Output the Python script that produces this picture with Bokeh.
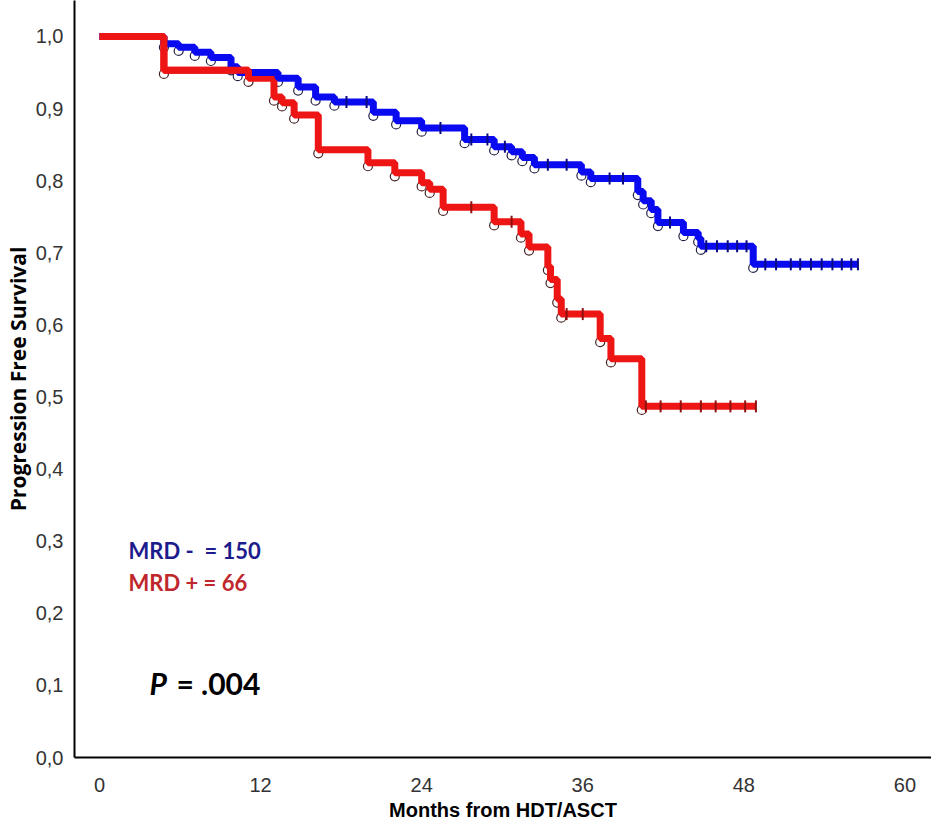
import numpy as np
from bokeh.plotting import figure
from bokeh.models import FixedTicker, CustomJSTickFormatter, Label, Range1d
from bokeh.embed import file_html
from bokeh.resources import INLINE

# ---- data ----
x_ticks = [0, 12, 24, 36, 48, 60]
y_ticks = [0.0, 0.1, 0.2, 0.3, 0.4, 0.5, 0.6, 0.7, 0.8, 0.9, 1.0]

blue_t = [0, 4.8, 5.9, 7.1, 8.3, 9.8, 10.3, 13.3, 14.8, 16.1, 17.5, 20.4, 22.1, 24.0,
          27.2, 29.4, 30.7, 31.5, 32.4, 35.9, 36.6, 40.1, 40.5, 41.1, 41.6, 43.5, 44.6,
          44.8, 48.7, 56.5]
blue_s = [1.0, 0.99, 0.985, 0.978, 0.971, 0.958, 0.950, 0.942, 0.930, 0.916, 0.909,
          0.895, 0.883, 0.873, 0.857, 0.847, 0.840, 0.832, 0.822, 0.812, 0.803, 0.785,
          0.772, 0.760, 0.742, 0.728, 0.720, 0.709, 0.684, 0.684]

red_t = [0, 4.8, 11.1, 13.0, 13.6, 14.5, 16.3, 20.0, 22.0, 24.0, 24.6, 25.6, 29.4, 31.4,
         32.0, 33.4, 33.6, 34.1, 34.4, 37.3, 38.1, 40.4, 48.9]
red_s = [1.0, 0.953, 0.942, 0.916, 0.908, 0.891, 0.843, 0.825, 0.811, 0.797, 0.788,
         0.763, 0.743, 0.726, 0.708, 0.681, 0.663, 0.636, 0.615, 0.581, 0.553, 0.487, 0.487]

blue_cens = [18.4, 19.9, 25.4, 27.7, 28.9, 30.2, 33.4, 34.8, 38.0, 39.0, 42.5, 45.2, 46.0,
             46.8, 47.5, 48.2, 49.6, 50.4, 51.5, 52.2, 53.0, 53.8, 54.6, 55.3, 56.0, 56.5]
red_cens = [27.7, 30.7, 34.8, 36.0, 40.7, 41.8, 43.3, 44.8, 45.9, 47.0, 48.1, 48.9]

label_neg = "MRD -\u00a0 = 150"
label_pos = "MRD + = 66"
p_label = "P"
p_value = "= .004"

BLUE = "#0a0af0"
RED = "#ee1515"


def surv_at(times, tt, ss):
    idx = np.searchsorted(np.array(tt), np.array(times), side="right") - 1
    return [ss[i] for i in idx]


p = figure(width=931, height=823, output_backend="svg", toolbar_location=None,
           x_range=Range1d(-1.86, 61.98), y_range=Range1d(0, 1.0499),
           min_border_left=73, min_border_right=0, min_border_top=0, min_border_bottom=65)
p.outline_line_color = None
p.xgrid.visible = False
p.ygrid.visible = False
p.background_fill_color = "white"
p.border_fill_color = "white"

tick_font = "Liberation Sans"
for ax in (p.xaxis[0], p.yaxis[0]):
    ax.axis_line_width = 2
    ax.axis_line_color = "black"
    ax.major_tick_line_color = None
    ax.minor_tick_line_color = None
    ax.major_tick_out = 0
    ax.major_tick_in = 0
    ax.minor_tick_out = 0
    ax.minor_tick_in = 0
    ax.major_label_text_font = tick_font
    ax.major_label_text_font_size = "20px"
    ax.major_label_text_color = "#333333"
    ax.axis_label_text_font_style = "bold"
    ax.axis_label_text_color = "black"

p.xaxis.ticker = FixedTicker(ticks=x_ticks)
p.yaxis.ticker = FixedTicker(ticks=y_ticks)
p.yaxis.formatter = CustomJSTickFormatter(code="return tick.toFixed(1).replace('.', ',');")
p.xaxis.major_label_standoff = 20
p.yaxis.major_label_standoff = 11
p.xaxis.axis_label = "Months from HDT/ASCT"
p.xaxis.axis_label_text_font = "Liberation Sans"
p.xaxis.axis_label_text_font_size = "20px"
p.xaxis.axis_label_standoff = 4
p.yaxis.axis_label = "Progression Free Survival"
p.yaxis.axis_label_text_font = "Open Sans"
p.yaxis.axis_label_text_font_size = "21px"
p.yaxis.axis_label_standoff = 1

# event circles (under the curves)
for tt, ss, col in ((blue_t, blue_s, "#222244"), (red_t, red_s, "#442222")):
    ev_t = tt[1:-1]
    ev_s = [s - 0.005 for s in ss[1:-1]]
    p.scatter(ev_t, ev_s, marker="circle", size=9, fill_color="white",
              line_color=col, line_width=1.2)

# curves
p.step(red_t, red_s, mode="after", line_color=RED, line_width=7)
p.step(blue_t, blue_s, mode="after", line_color=BLUE, line_width=7)
p.step(red_t[:3], red_s[:3], mode="after", line_color=RED, line_width=7)

# censor marks
p.scatter(blue_cens, surv_at(blue_cens, blue_t, blue_s), marker="dash", angle=np.pi / 2,
          size=12, line_color="#0a0a80", line_width=2)
p.scatter(red_cens, surv_at(red_cens, red_t, red_s), marker="dash", angle=np.pi / 2,
          size=12, line_color="#901010", line_width=2)

# annotations
p.add_layout(Label(x=2.16, y=0.287, text=label_neg, text_font="Lato",
                   text_font_style="bold", text_font_size="22px", text_color="#1c1c8c",
                   text_baseline="middle"))
p.add_layout(Label(x=2.16, y=0.243, text=label_pos, text_font="Lato",
                   text_font_style="bold", text_font_size="22px", text_color="#c0272d",
                   text_baseline="middle"))
p.add_layout(Label(x=3.72, y=0.103, text=p_label, text_font="Lato",
                   text_font_style="bold italic", text_font_size="30px", text_color="black",
                   text_baseline="middle"))
p.add_layout(Label(x=3.72, y=0.103, x_offset=27, text=p_value, text_font="Lato",
                   text_font_style="bold", text_font_size="30px", text_color="black",
                   text_baseline="middle"))

open("out.html", "w").write(file_html(p, INLINE))
